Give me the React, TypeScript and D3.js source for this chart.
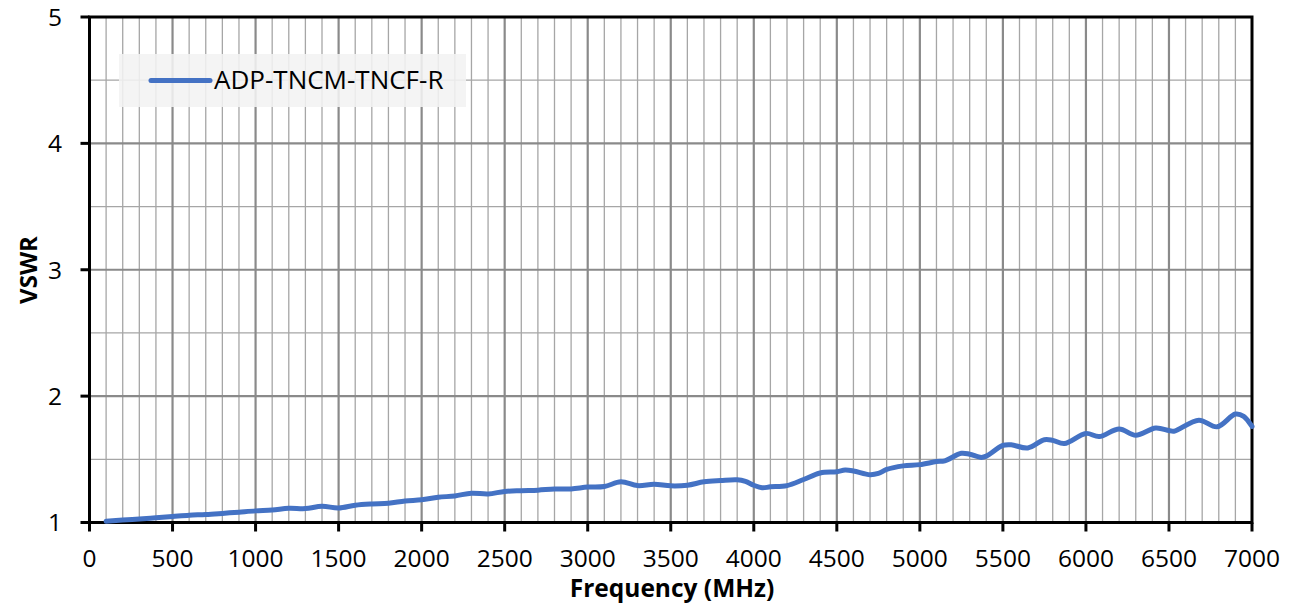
import React from "react";
import * as d3 from "d3";

const freqs = [
  100, 200, 300, 400, 500, 600, 700, 800, 900, 1000,
  1100, 1200, 1300, 1400, 1500, 1600, 1700, 1800, 1900, 2000,
  2100, 2200, 2300, 2400, 2500, 2600, 2700, 2800, 2900, 3000,
  3100, 3200, 3300, 3400, 3500, 3600, 3700, 3800, 3900, 3950,
  4000, 4050, 4100, 4200, 4300, 4400, 4500, 4550, 4600, 4700,
  4750, 4800, 4900, 5000, 5100, 5150, 5250, 5300, 5370, 5400,
  5500, 5550, 5650, 5750, 5800, 5870, 6000, 6080, 6200, 6300,
  6420, 6500, 6530, 6680, 6790, 6900, 6950, 7000,
];
const vswr = [
  1.01, 1.02, 1.028, 1.038, 1.048, 1.058, 1.063, 1.072, 1.082, 1.092,
  1.098, 1.112, 1.11, 1.128, 1.115, 1.137, 1.147, 1.152, 1.17, 1.18,
  1.2, 1.21, 1.232, 1.226, 1.246, 1.252, 1.256, 1.265, 1.266, 1.28,
  1.285, 1.322, 1.292, 1.302, 1.29, 1.295, 1.322, 1.332, 1.338, 1.325,
  1.295, 1.275, 1.282, 1.292, 1.34, 1.392, 1.402, 1.415, 1.408, 1.378,
  1.388, 1.42, 1.448, 1.458, 1.482, 1.488, 1.548, 1.54, 1.515, 1.525,
  1.61, 1.615, 1.59, 1.655, 1.65, 1.625, 1.705, 1.68, 1.74, 1.69,
  1.748, 1.728, 1.722, 1.81, 1.757, 1.858, 1.84, 1.76,
];
const seriesName = "ADP-TNCM-TNCF-R";
const xTicks = [0, 500, 1000, 1500, 2000, 2500, 3000, 3500, 4000, 4500, 5000, 5500, 6000, 6500, 7000];
const yTicks = [1, 2, 3, 4, 5];

const W = 1291;
const H = 605;
const L = 89.5;
const R = 1252;
const T = 17;
const B = 522.5;
const FONT = "'Open Sans', sans-serif";

export default function App() {
  const x = d3.scaleLinear().domain([0, 7000]).range([L, R]);
  const y = d3.scaleLinear().domain([1, 5]).range([B, T]);
  const minorX = d3.range(100, 7000, 100).filter((v) => v % 500 !== 0);
  const majorX = d3.range(500, 7000, 500);
  const minorY = [1.5, 2.5, 3.5, 4.5];
  const majorY = [2, 3, 4];
  const data = freqs.map((f, i) => [f, vswr[i]] as [number, number]);
  const line = d3
    .line<[number, number]>()
    .x((d) => x(d[0]))
    .y((d) => y(d[1]))
    .curve(d3.curveCatmullRom.alpha(0.5));

  return (
    <svg
      width={W}
      height={H}
      style={{ position: "absolute", left: 0, top: 0, background: "#fff" }}
      fontFamily={FONT}
    >
      {minorX.map((v) => (
        <line key={"mx" + v} x1={x(v)} x2={x(v)} y1={T} y2={B} stroke="#a6a6a6" strokeWidth={1.3} />
      ))}
      {minorY.map((v) => (
        <line key={"my" + v} x1={L} x2={R} y1={y(v)} y2={y(v)} stroke="#a6a6a6" strokeWidth={1.3} />
      ))}
      {majorX.map((v) => (
        <line key={"Mx" + v} x1={x(v)} x2={x(v)} y1={T} y2={B} stroke="#8a8a8a" strokeWidth={2.2} />
      ))}
      {majorY.map((v) => (
        <line key={"My" + v} x1={L} x2={R} y1={y(v)} y2={y(v)} stroke="#8a8a8a" strokeWidth={2.2} />
      ))}

      {/* plot border */}
      <rect x={L} y={T} width={R - L} height={B - T} fill="none" stroke="#000" strokeWidth={3} />

      {/* ticks */}
      {yTicks.map((v) => (
        <g key={"yt" + v}>
          <line x1={L - 9} x2={L} y1={y(v)} y2={y(v)} stroke="#000" strokeWidth={3} />
          <text x={62} y={y(v)} dy="0.36em" textAnchor="end" fontSize={24.5} fill="#000">
            {v}
          </text>
        </g>
      ))}
      {xTicks.map((v) => (
        <g key={"xt" + v}>
          <line x1={x(v)} x2={x(v)} y1={B} y2={B + 9} stroke="#000" strokeWidth={3} />
          <text x={x(v)} y={567} textAnchor="middle" fontSize={24.5} fill="#000">
            {v}
          </text>
        </g>
      ))}

      {/* series */}
      <path d={line(data) || ""} fill="none" stroke="#4472C4" strokeWidth={5} strokeLinecap="round" strokeLinejoin="round" />

      {/* legend */}
      <rect x={119} y={54} width={347} height={53} fill="#f2f2f2" fillOpacity={0.88} />
      <line x1={151} x2={210} y1={80.5} y2={80.5} stroke="#4472C4" strokeWidth={5} strokeLinecap="round" />
      <text x={214} y={89} fontSize={26} fill="#000">
        {seriesName}
      </text>

      {/* axis titles */}
      <text x={672} y={597} textAnchor="middle" fontSize={24.5} fontWeight="bold" fill="#000">
        Frequency (MHz)
      </text>
      <text
        transform={`translate(37, 270) rotate(-90)`}
        textAnchor="middle"
        fontSize={24}
        fontWeight="bold"
        fill="#000"
      >
        VSWR
      </text>
    </svg>
  );
}
